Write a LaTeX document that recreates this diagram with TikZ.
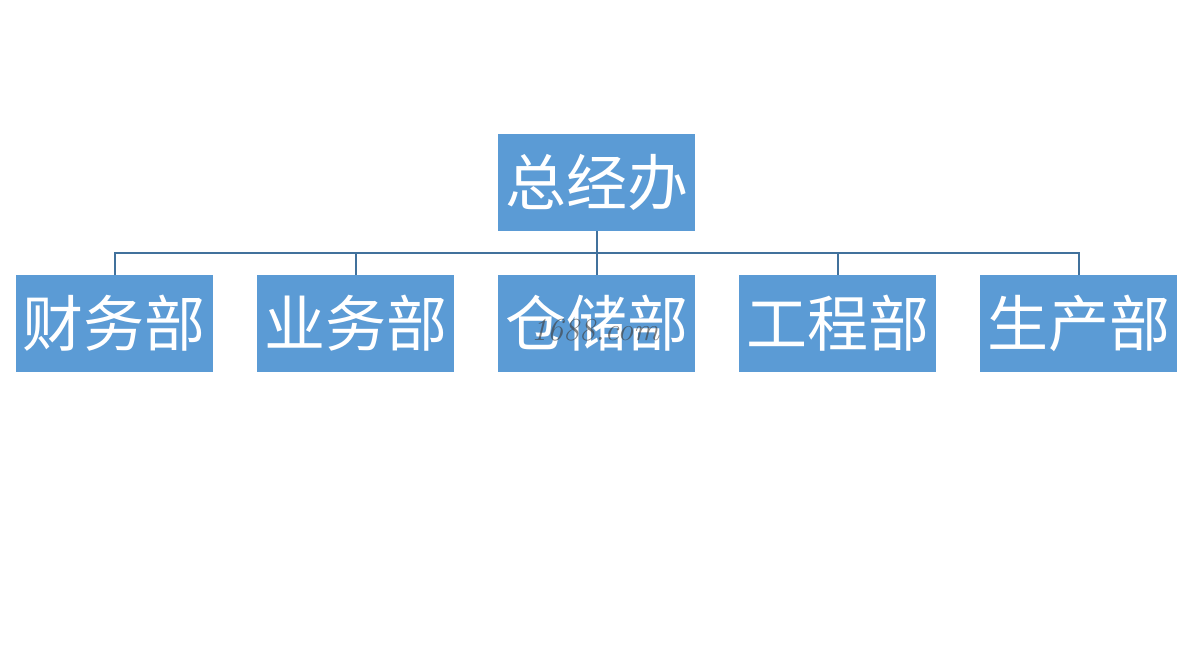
\documentclass[tikz,border=0pt]{standalone}
\usepackage{fontspec}
\usepackage{tikz}
\newfontfamily\cjk{Noto Sans CJK SC}
\usetikzlibrary{backgrounds}
\definecolor{boxblue}{HTML}{5B9BD5}
\definecolor{lineblue}{HTML}{41719C}

\begin{document}
\begin{tikzpicture}[
    every node/.style = {
    minimum width = 197pt, minimum height = 97pt, inner sep = 0pt,
    fill = boxblue, text = white, font = \cjk\fontsize{61}{66}\selectfont},
    level/.style = {sibling distance = 241pt},
    level distance = 141pt,
    edge from parent/.style = {draw = lineblue, line width = 2pt},
    edge from parent path = {(\tikzparentnode.south) -- ++(0pt,-22pt)
        -| (\tikzchildnode.north)}
    ]
    \useasboundingbox (0pt,0pt) rectangle (1187pt,-652pt);
    \node (zong) at (596.5pt,-182.5pt) {总经办}
    child {node (caiwu) {财务部}}
    child {node (yewu) {业务部}}
    child {node (cangchu) {仓储部}}
    child {node (gongcheng) {工程部}}
    child {node (shengchan) {生产部}};
    % watermark
    \node[fill = none, minimum width = 0pt, minimum height = 0pt,
          text = black!75, opacity = 0.65,
          font = \itshape\fontsize{32}{36}\selectfont]
          (mark) at (595pt,-330pt) {1688.com};
\end{tikzpicture}
\end{document}
